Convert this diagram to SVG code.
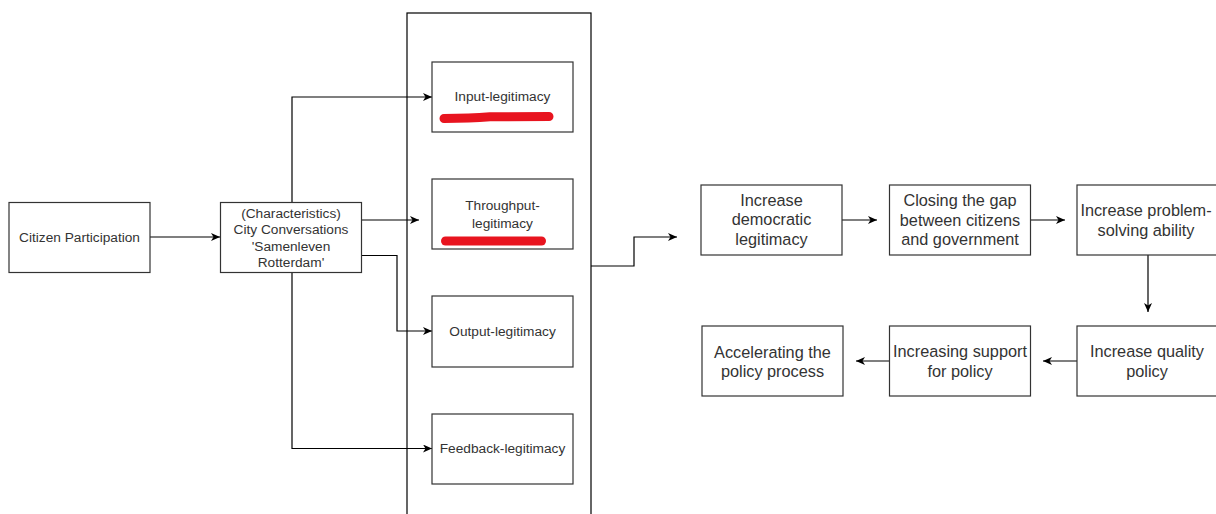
<svg xmlns="http://www.w3.org/2000/svg" width="1216" height="514" viewBox="0 0 1216 514">
<style>
.box{fill:#fff;stroke:#333;stroke-width:1.2}
.t{font-family:"Liberation Sans",Arial,sans-serif;fill:#333;text-anchor:middle}
.s{font-size:13.7px}
.l{font-size:16.3px}
.c{fill:none;stroke:#000;stroke-width:1.2}
.red{fill:none;stroke:#e8141f;stroke-width:9;stroke-linecap:round}
</style>
<defs>
<marker id="a" markerUnits="userSpaceOnUse" markerWidth="10" markerHeight="10" refX="9" refY="4" orient="auto">
<path d="M0,0 L9,4 L0,8 L2.5,4 z" fill="#000"/>
</marker>
</defs>
<g id="container"><rect x="407" y="13" width="184" height="520" fill="none" stroke="#000" stroke-width="1.2"/></g>
<g id="connectors">
<path class="c" d="M150,237 H220" marker-end="url(#a)"/>
<path class="c" d="M292,202 V97 H432" marker-end="url(#a)"/>
<path class="c" d="M361.5,220 H419" marker-end="url(#a)"/>
<path class="c" d="M361.5,255.5 H397 V331 H432" marker-end="url(#a)"/>
<path class="c" d="M292,272.5 V448.5 H432" marker-end="url(#a)"/>
<path class="c" d="M591,266 H634 V237 H677" marker-end="url(#a)"/>
<path class="c" d="M842,220 H877" marker-end="url(#a)"/>
<path class="c" d="M1031,220 H1065" marker-end="url(#a)"/>
<path class="c" d="M1148,255 V312" marker-end="url(#a)"/>
<path class="c" d="M1077,361 H1043" marker-end="url(#a)"/>
<path class="c" d="M889,361 H856" marker-end="url(#a)"/>
</g>
<g id="citizen"><rect class="box" x="9" y="202.5" width="141" height="70"/><text class="t s" x="79.5" y="241.5">Citizen Participation</text></g>
<g id="city"><rect class="box" x="220.5" y="202.5" width="141" height="70"/>
<text class="t s" x="291" y="217.5">(Characteristics)</text>
<text class="t s" x="291" y="233.5">City Conversations</text>
<text class="t s" x="291" y="250.5">'Samenleven</text>
<text class="t s" x="291" y="267">Rotterdam'</text></g>
<g id="input"><rect class="box" x="432" y="62" width="141" height="70"/><text class="t s" x="502.5" y="101">Input-legitimacy</text>
<path class="red" d="M444,118.5 Q470,118.3 490,116.8 L549,116.5"/></g>
<g id="throughput"><rect class="box" x="432" y="179" width="141" height="70"/><text class="t s" x="502.5" y="210">Throughput-</text><text class="t s" x="502.5" y="228">legitimacy</text>
<path class="red" d="M445.5,241 L541.5,241"/></g>
<g id="output"><rect class="box" x="432" y="296" width="141" height="71"/><text class="t s" x="502.5" y="336">Output-legitimacy</text></g>
<g id="feedback"><rect class="box" x="432" y="414" width="141" height="70"/><text class="t s" x="502.5" y="453">Feedback-legitimacy</text></g>
<g id="democratic"><rect class="box" x="701" y="185" width="141" height="70"/>
<text class="t l" x="771.5" y="205.5">Increase</text><text class="t l" x="771.5" y="225">democratic</text><text class="t l" x="771.5" y="244.5">legitimacy</text></g>
<g id="closing"><rect class="box" x="889.5" y="185" width="141" height="70"/>
<text class="t l" x="960" y="206">Closing the gap</text><text class="t l" x="960" y="225.5">between citizens</text><text class="t l" x="960" y="245">and government</text></g>
<g id="problem"><rect class="box" x="1077" y="185" width="141" height="70"/>
<text class="t l" x="1146" y="216">Increase problem-</text><text class="t l" x="1146" y="236">solving ability</text></g>
<g id="quality"><rect class="box" x="1077" y="326" width="141" height="70"/>
<text class="t l" x="1147" y="357">Increase quality</text><text class="t l" x="1147" y="376.5">policy</text></g>
<g id="support"><rect class="box" x="889.5" y="326" width="141" height="70"/>
<text class="t l" x="960" y="357">Increasing support</text><text class="t l" x="960" y="376.5">for policy</text></g>
<g id="accelerating"><rect class="box" x="702" y="326" width="141" height="70"/>
<text class="t l" x="772.5" y="357.5">Accelerating the</text><text class="t l" x="772.5" y="377">policy process</text></g>
</svg>
